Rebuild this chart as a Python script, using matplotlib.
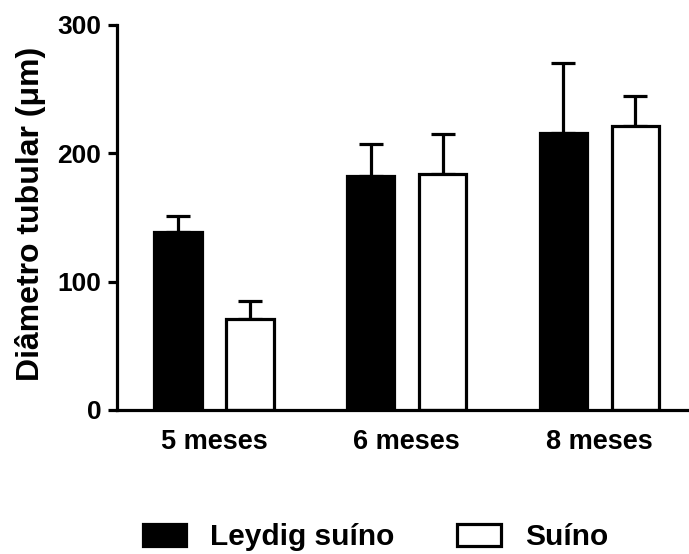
import matplotlib
matplotlib.use("Agg")
import matplotlib.pyplot as plt
import numpy as np

categories = ["5 meses", "6 meses", "8 meses"]
leydig = [139, 182, 216]
leydig_err = [12, 25, 54]
suino = [71, 184, 221.5]
suino_err = [14, 31, 23.5]
series_names = ["Leydig suíno", "Suíno"]
yticks = [0, 100, 200, 300]

plt.rcParams['font.family'] = ['Liberation Sans', 'DejaVu Sans']
plt.rcParams['font.weight'] = 'bold'

fig = plt.figure(figsize=(6.89, 5.54), dpi=100)
ax = fig.add_axes([0.170, 0.260, 0.830, 0.695])

x = np.arange(len(categories))
w = 0.245
off = 0.187
lw = 2.3

b1 = ax.bar(x - off, leydig, width=w, color='black', edgecolor='black', linewidth=lw, zorder=3, label=series_names[0])
b2 = ax.bar(x + off, suino, width=w, color='white', edgecolor='black', linewidth=lw, zorder=3, label=series_names[1])
ax.errorbar(x - off, leydig, yerr=[np.zeros(3), leydig_err], fmt='none', ecolor='black',
            elinewidth=lw, capsize=8.3, capthick=lw, zorder=2)
ax.errorbar(x + off, suino, yerr=[np.zeros(3), suino_err], fmt='none', ecolor='black',
            elinewidth=lw, capsize=8.3, capthick=lw, zorder=2)

ax.set_xlim(-0.503, 2.466)
ax.set_ylim(0, 300)
ax.set_yticks(yticks)
ax.set_yticklabels([str(t) for t in yticks], fontsize=19, fontweight='bold')
ax.set_xticks(x)
ax.set_xticklabels(categories, fontsize=19.5, fontweight='bold')
ax.tick_params(axis='y', length=6.5, width=lw, pad=5)
ax.tick_params(axis='x', length=0, pad=14)
for s in ['top', 'right']:
    ax.spines[s].set_visible(False)
for s in ['left', 'bottom']:
    ax.spines[s].set_linewidth(lw)
ax.spines['bottom'].set_zorder(4)

ax.set_ylabel("Diâmetro tubular (μm)", fontsize=23, fontweight='bold')
ax.yaxis.set_label_coords(-0.125, 0.508)

fig.legend(handles=[b1, b2], labels=series_names, loc='center', bbox_to_anchor=(0.545, 0.03),
           ncol=2, frameon=False, prop={'size': 21.5, 'weight': 'bold'},
           handlelength=1.45, handleheight=0.78, handletextpad=0.8, columnspacing=2.1)

fig.savefig("out.png", dpi=100)
